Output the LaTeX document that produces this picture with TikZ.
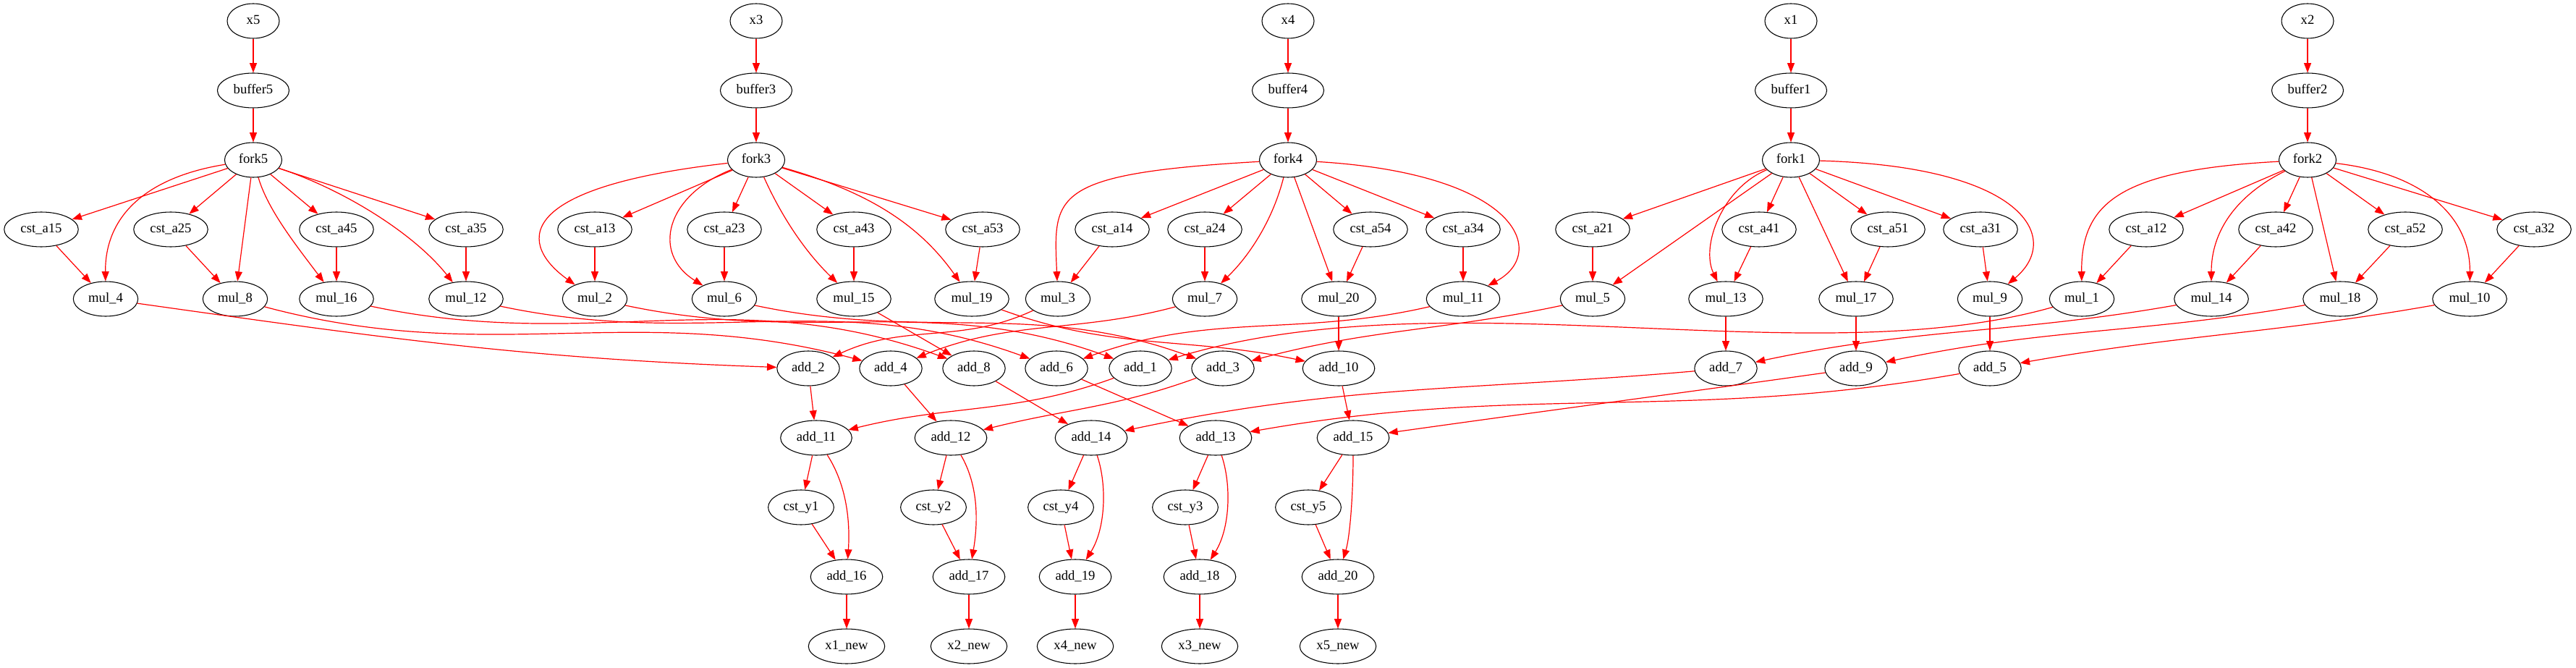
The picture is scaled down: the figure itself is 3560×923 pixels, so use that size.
\documentclass[tikz,border=0pt]{standalone}
\usepackage{fontspec}
\setmainfont{Liberation Serif}
\usetikzlibrary{shapes.geometric,arrows.meta}
\begin{document}
\begin{tikzpicture}[x=0.75pt,y=-0.75pt,
  gv/.style={ellipse,draw=black,line width=0.8pt,minimum width=54pt,minimum height=36pt,
    inner xsep=5.8pt,inner ysep=1pt,text height=9.8pt,text depth=3.2pt,
    font=\fontsize{14}{16}\selectfont},
  ed/.style={draw=red,line width=0.9pt,-{Triangle[length=10pt,width=7.5pt]}}]
\useasboundingbox (0,0) rectangle (3560,923);
% row 0-2
\node[gv] (x5) at (350,29) {x5};
\node[gv] (x3) at (1045,29) {x3};
\node[gv] (x4) at (1780,29) {x4};
\node[gv] (x1) at (2475,29) {x1};
\node[gv] (x2) at (3189,29) {x2};
\node[gv] (buffer5) at (350,125) {buffer5};
\node[gv] (buffer3) at (1045,125) {buffer3};
\node[gv] (buffer4) at (1780,125) {buffer4};
\node[gv] (buffer1) at (2475,125) {buffer1};
\node[gv] (buffer2) at (3189,125) {buffer2};
\node[gv] (fork5) at (350,221) {fork5};
\node[gv] (fork3) at (1045,221) {fork3};
\node[gv] (fork4) at (1780,221) {fork4};
\node[gv] (fork1) at (2475,221) {fork1};
\node[gv] (fork2) at (3189,221) {fork2};
% row 3
\node[gv] (csta15) at (57,317) {cst\_a15};
\node[gv] (csta25) at (236,317) {cst\_a25};
\node[gv] (csta45) at (465,317) {cst\_a45};
\node[gv] (csta35) at (644,317) {cst\_a35};
\node[gv] (csta13) at (822,317) {cst\_a13};
\node[gv] (csta23) at (1001,317) {cst\_a23};
\node[gv] (csta43) at (1180,317) {cst\_a43};
\node[gv] (csta53) at (1358,317) {cst\_a53};
\node[gv] (csta14) at (1537,317) {cst\_a14};
\node[gv] (csta24) at (1665,317) {cst\_a24};
\node[gv] (csta54) at (1894,317) {cst\_a54};
\node[gv] (csta34) at (2022,317) {cst\_a34};
\node[gv] (csta21) at (2201,317) {cst\_a21};
\node[gv] (csta41) at (2431,317) {cst\_a41};
\node[gv] (csta51) at (2609,317) {cst\_a51};
\node[gv] (csta31) at (2737,317) {cst\_a31};
\node[gv] (csta12) at (2966,317) {cst\_a12};
\node[gv] (csta42) at (3145,317) {cst\_a42};
\node[gv] (csta52) at (3324,317) {cst\_a52};
\node[gv] (csta32) at (3502,317) {cst\_a32};
% row 4
\node[gv] (mul4) at (146,413) {mul\_4};
\node[gv] (mul8) at (325,413) {mul\_8};
\node[gv] (mul16) at (465,413) {mul\_16};
\node[gv] (mul12) at (644,413) {mul\_12};
\node[gv] (mul2) at (822,413) {mul\_2};
\node[gv] (mul6) at (1001,413) {mul\_6};
\node[gv] (mul15) at (1180,413) {mul\_15};
\node[gv] (mul19) at (1343,413) {mul\_19};
\node[gv] (mul3) at (1462,413) {mul\_3};
\node[gv] (mul7) at (1665,413) {mul\_7};
\node[gv] (mul20) at (1850,413) {mul\_20};
\node[gv] (mul11) at (2022,413) {mul\_11};
\node[gv] (mul5) at (2201,413) {mul\_5};
\node[gv] (mul13) at (2385,413) {mul\_13};
\node[gv] (mul17) at (2565,413) {mul\_17};
\node[gv] (mul9) at (2750,413) {mul\_9};
\node[gv] (mul1) at (2877,413) {mul\_1};
\node[gv] (mul14) at (3056,413) {mul\_14};
\node[gv] (mul18) at (3234,413) {mul\_18};
\node[gv] (mul10) at (3413,413) {mul\_10};
% row 5
\node[gv] (add2) at (1117,509) {add\_2};
\node[gv] (add4) at (1231,509) {add\_4};
\node[gv] (add8) at (1346,509) {add\_8};
\node[gv] (add6) at (1460,509) {add\_6};
\node[gv] (add1) at (1576,509) {add\_1};
\node[gv] (add3) at (1690,509) {add\_3};
\node[gv] (add10) at (1850,509) {add\_10};
\node[gv] (add7) at (2385,509) {add\_7};
\node[gv] (add9) at (2565,509) {add\_9};
\node[gv] (add5) at (2750,509) {add\_5};
% row 6
\node[gv] (add11) at (1128,605) {add\_11};
\node[gv] (add12) at (1314,605) {add\_12};
\node[gv] (add14) at (1508,605) {add\_14};
\node[gv] (add13) at (1680,605) {add\_13};
\node[gv] (add15) at (1870,605) {add\_15};
% row 7
\node[gv] (csty1) at (1107,701) {cst\_y1};
\node[gv] (csty2) at (1290,701) {cst\_y2};
\node[gv] (csty4) at (1466,701) {cst\_y4};
\node[gv] (csty3) at (1638,701) {cst\_y3};
\node[gv] (csty5) at (1808,701) {cst\_y5};
% row 8
\node[gv] (add16) at (1170,797) {add\_16};
\node[gv] (add17) at (1339,797) {add\_17};
\node[gv] (add19) at (1486,797) {add\_19};
\node[gv] (add18) at (1658,797) {add\_18};
\node[gv] (add20) at (1849,797) {add\_20};
% row 9
\node[gv] (x1new) at (1170,893) {x1\_new};
\node[gv] (x2new) at (1339,893) {x2\_new};
\node[gv] (x4new) at (1486,893) {x4\_new};
\node[gv] (x3new) at (1658,893) {x3\_new};
\node[gv] (x5new) at (1849,893) {x5\_new};

% top chains
\foreach \i in {1,...,5} {
  \draw[ed] (x\i) -- (buffer\i);
  \draw[ed] (buffer\i) -- (fork\i);
}
% fork5
\foreach \t in {csta15,csta25,csta45,csta35,mul8} \draw[ed] (fork5) -- (\t);
\draw[ed] (fork5) .. controls (200,245) and (145,300) .. (mul4);
\draw[ed] (fork5) .. controls (370,290) and (410,340) .. (mul16);
\draw[ed] (fork5) .. controls (470,260) and (570,320) .. (mul12);
% fork3
\foreach \t in {csta13,csta23,csta43,csta53} \draw[ed] (fork3) -- (\t);
\draw[ed] (fork3) .. controls (700,260) and (720,340) .. (mul2);
\draw[ed] (fork3) .. controls (920,270) and (900,350) .. (mul6);
\draw[ed] (fork3) .. controls (1085,310) and (1120,355) .. (mul15);
\draw[ed] (fork3) .. controls (1200,265) and (1270,310) .. (mul19);
% fork4
\foreach \t in {csta14,csta24,csta54,csta34,mul20} \draw[ed] (fork4) -- (\t);
\draw[ed] (fork4) .. controls (1450,240) and (1456,270) .. (mul3);
\draw[ed] (fork4) .. controls (1760,300) and (1730,350) .. (mul7);
\draw[ed] (fork4) .. controls (2100,240) and (2140,350) .. (mul11);
% fork1
\foreach \t in {csta21,csta41,csta51,csta31,mul5,mul17} \draw[ed] (fork1) -- (\t);
\draw[ed] (fork1) .. controls (2380,260) and (2350,340) .. (mul13);
\draw[ed] (fork1) .. controls (2800,230) and (2850,330) .. (mul9);
% fork2
\foreach \t in {csta12,csta42,csta52,csta32,mul18} \draw[ed] (fork2) -- (\t);
\draw[ed] (fork2) .. controls (2930,235) and (2876,280) .. (mul1);
\draw[ed] (fork2) .. controls (3090,270) and (3056,320) .. (mul14);
\draw[ed] (fork2) .. controls (3350,240) and (3414,300) .. (mul10);
% cst -> mul
\foreach \a/\b in {csta15/mul4,csta25/mul8,csta45/mul16,csta35/mul12,csta13/mul2,
  csta23/mul6,csta43/mul15,csta53/mul19,csta14/mul3,csta24/mul7,csta54/mul20,
  csta34/mul11,csta21/mul5,csta41/mul13,csta51/mul17,csta31/mul9,csta12/mul1,
  csta42/mul14,csta52/mul18,csta32/mul10} \draw[ed] (\a) -- (\b);
% mul -> add
\draw[ed] (mul4) to[out=-8,in=178] (add2);
\draw[ed] (mul8) to[out=-15,in=165] (add4);
\draw[ed] (mul16) to[out=-12,in=160] (add8);
\draw[ed] (mul12) to[out=-12,in=160] (add6);
\draw[ed] (mul2) to[out=-12,in=160] (add1);
\draw[ed] (mul6) to[out=-12,in=160] (add3);
\draw[ed] (mul15) -- (add8);
\draw[ed] (mul19) to[out=-20,in=168] (add10);
\draw[ed] (mul3) to[out=205,in=25] (add2);
\draw[ed] (mul7) to[out=195,in=22] (add4);
\draw[ed] (mul20) -- (add10);
\draw[ed] (mul11) to[out=193,in=20] (add6);
\draw[ed] (mul5) to[out=192,in=15] (add3);
\draw[ed] (mul13) -- (add7);
\draw[ed] (mul1) .. controls (2500,520) and (2000,380) .. (add1);
\draw[ed] (mul9) -- (add5);
\draw[ed] (mul10) to[out=190,in=10] (add5);
\draw[ed] (mul14) to[out=190,in=12] (add7);
\draw[ed] (mul17) -- (add9);
\draw[ed] (mul18) to[out=190,in=12] (add9);
% add -> add
\draw[ed] (add2) -- (add11);
\draw[ed] (add1) to[out=200,in=14] (add11);
\draw[ed] (add4) -- (add12);
\draw[ed] (add3) to[out=200,in=14] (add12);
\draw[ed] (add8) -- (add14);
\draw[ed] (add7) to[out=185,in=12] (add14);
\draw[ed] (add6) -- (add13);
\draw[ed] (add5) to[out=190,in=10] (add13);
\draw[ed] (add10) -- (add15);
\draw[ed] (add9) to[out=188,in=8] (add15);
% outputs
\draw[ed] (add11) -- (csty1);
\draw[ed] (add11) .. controls (1170,670) and (1175,720) .. (add16);
\draw[ed] (csty1) -- (add16);
\draw[ed] (add16) -- (x1new);
\draw[ed] (add12) -- (csty2);
\draw[ed] (add12) .. controls (1352,670) and (1352,720) .. (add17);
\draw[ed] (csty2) -- (add17);
\draw[ed] (add17) -- (x2new);
\draw[ed] (add13) -- (csty3);
\draw[ed] (add13) .. controls (1702,670) and (1700,730) .. (add18);
\draw[ed] (csty3) -- (add18);
\draw[ed] (add18) -- (x3new);
\draw[ed] (add14) -- (csty4);
\draw[ed] (add14) .. controls (1530,670) and (1528,730) .. (add19);
\draw[ed] (csty4) -- (add19);
\draw[ed] (add19) -- (x4new);
\draw[ed] (add15) -- (csty5);
\draw[ed] (add15) .. controls (1870,680) and (1866,740) .. (add20);
\draw[ed] (csty5) -- (add20);
\draw[ed] (add20) -- (x5new);
\end{tikzpicture}
\end{document}
